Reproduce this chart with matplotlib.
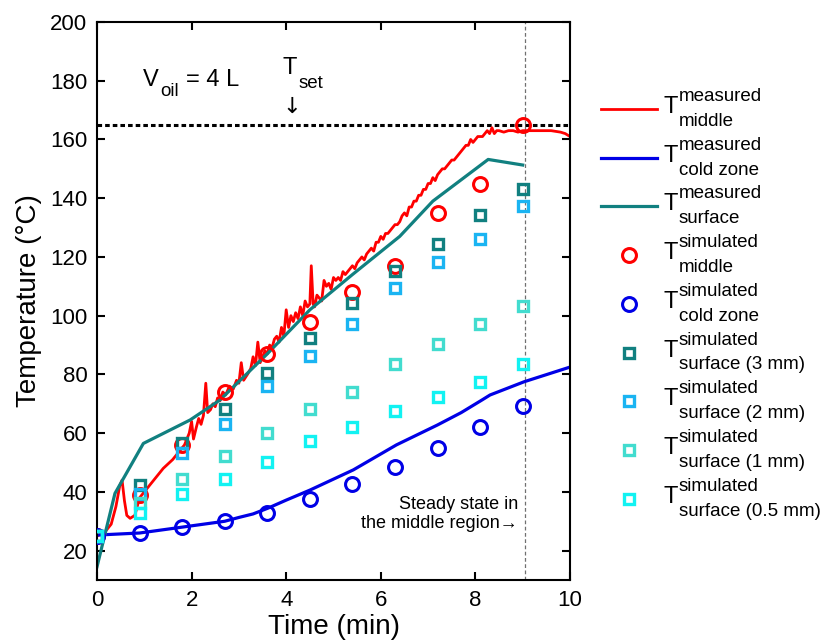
import matplotlib
matplotlib.use("Agg")
import matplotlib.pyplot as plt

plt.rcParams['font.family'] = ['Liberation Sans', 'DejaVu Sans']

# ---- measured data ----
t_mid = [0.0, 0.15, 0.3, 0.4, 0.48, 0.53, 0.58, 0.63, 0.7, 0.8, 0.9, 1.0, 1.2, 1.4, 1.6, 1.75,
         1.85, 1.95, 2.0, 2.04, 2.1, 2.15, 2.2, 2.25, 2.3, 2.34, 2.4, 2.45, 2.5, 2.55, 2.6, 2.66,
         2.72, 2.8, 2.88, 2.95, 3.0, 3.05, 3.1, 3.18, 3.25, 3.3, 3.35, 3.4, 3.45, 3.5, 3.55, 3.6,
         3.65, 3.7, 3.75, 3.8, 3.85, 3.9, 3.95, 4.0, 4.05, 4.1, 4.15, 4.2, 4.25, 4.3, 4.35, 4.4,
         4.45, 4.5, 4.53, 4.57, 4.6, 4.65, 4.7, 4.75, 4.8, 4.85, 4.9, 4.95, 5.0, 5.05, 5.1, 5.15,
         5.2, 5.25, 5.3, 5.35, 5.4, 5.45, 5.5, 5.55, 5.6, 5.65, 5.7, 5.75, 5.8, 5.85, 5.9, 5.95,
         6.0, 6.05, 6.1, 6.15, 6.2, 6.25, 6.3, 6.35, 6.4, 6.45, 6.5, 6.55, 6.6, 6.65, 6.7, 6.75,
         6.8, 6.85, 6.9, 6.95, 7.0, 7.05, 7.1, 7.15, 7.2, 7.25, 7.3, 7.35, 7.4, 7.45, 7.5, 7.55,
         7.6, 7.65, 7.7, 7.75, 7.8, 7.85, 7.9, 7.95, 8.0, 8.05, 8.1, 8.15, 8.2, 8.25, 8.3, 8.35,
         8.4, 8.45, 8.5, 8.6, 8.7, 8.8, 8.9, 9.0, 9.2, 9.4, 9.6, 9.8, 9.9, 10.0]
T_mid = [25, 26, 29, 35, 42, 44, 37, 32, 31, 32, 38, 40, 44, 48, 51, 54,
         56, 60, 64, 58, 62, 65, 63, 66, 77, 67, 68, 70, 69, 72, 71, 74,
         73, 76, 75, 78, 77, 84, 78, 80, 82, 86, 83, 91, 84, 86, 88, 87,
         90, 89, 92, 93, 91, 96, 93, 102, 96, 100, 98, 101, 99, 103, 100, 105,
         103, 104, 117, 104, 103, 107, 106, 105, 112, 110, 111, 109, 113, 112, 113, 112,
         115, 114, 115, 116, 117, 116, 118, 119, 120, 119, 121, 122, 123, 122, 125, 125,
         127, 126, 128, 128, 129, 130, 131, 131, 132, 134, 135, 134, 137, 137, 139, 139,
         141, 141, 143, 143, 145, 145, 147, 146, 148, 149, 150, 150, 151, 152, 153, 153,
         154, 155, 156, 157, 158, 158, 160, 159, 160, 161, 161, 161, 162, 163, 162, 164,
         162, 163, 163, 162.5, 163, 163, 162.5, 163, 163, 163, 163, 162.5, 162, 161]

t_cold = [0.0, 0.9, 1.8, 2.7, 3.0, 3.3, 3.62, 4.0, 4.5, 5.42, 6.33, 7.2, 7.7, 8.14, 8.31, 9.03, 10.0]
T_cold = [25.3, 26.0, 28.0, 30.0, 31.3, 32.5, 34.5, 37.2, 40.6, 47.5, 56.0, 62.8, 67.0, 71.3, 73.0, 77.5, 82.5]

t_surf = [0.0, 0.38, 0.98, 1.97, 2.6, 3.6, 4.5, 5.4, 6.4, 7.1, 8.27, 9.0]
T_surf = [14.5, 39.5, 56.5, 64.5, 71.3, 87.0, 102.0, 114.0, 127.0, 139.0, 153.2, 151.3]

# ---- simulated data ----
t_sim = [0.0, 0.9, 1.8, 2.7, 3.6, 4.5, 5.4, 6.3, 7.2, 8.1, 9.0]
sim_middle = [25, 39, 56, 74, 87, 98, 108, 117, 135, 145, 165]
sim_cold = [25, 26.1, 28.2, 30.1, 32.9, 37.6, 42.6, 48.6, 55.1, 62.2, 69.2]
sim_s3 = [25, 42.5, 56.5, 68.1, 80.4, 92.3, 104.2, 115.2, 124.3, 134.2, 143.0]
sim_s2 = [25, 39.3, 53.1, 63.1, 76.2, 86.4, 97.1, 109.3, 118.2, 126.1, 137.3]
sim_s1 = [25, 36.1, 44.4, 52.2, 60.2, 68.1, 74.1, 83.4, 90.3, 97.1, 103.3]
sim_s05 = [25, 32.9, 39.3, 44.4, 50.3, 57.3, 62.2, 67.5, 72.4, 77.5, 83.4]

T_set = 165
t_steady = 9.05

x_ticks = [0, 2, 4, 6, 8, 10]
y_ticks = [20, 40, 60, 80, 100, 120, 140, 160, 180, 200]

legend_sup = ['measured', 'measured', 'measured', 'simulated', 'simulated',
              'simulated', 'simulated', 'simulated', 'simulated']
legend_sub = ['middle', 'cold zone', 'surface', 'middle', 'cold zone',
              'surface (3 mm)', 'surface (2 mm)', 'surface (1 mm)', 'surface (0.5 mm)']

c_red = '#ff0000'
c_blue = '#0000e6'
c_teal = '#118080'
c_s2 = '#1ab4f2'
c_s1 = '#42dccf'
c_s05 = '#12f2f2'

fig = plt.figure(figsize=(8.24, 6.44), dpi=100)
ax = fig.add_axes([97/824, 64/644, 473/824, 558/644])

ax.axhline(T_set, color='black', linestyle=(0, (1.5, 1.0)), linewidth=2.2, zorder=1)
ax.axvline(t_steady, color='#707070', linestyle=(0, (3, 2)), linewidth=0.9, zorder=1)

labels = [a + '\n' + b for a, b in zip(legend_sup, legend_sub)]

l1, = ax.plot(t_mid, T_mid, color=c_red, linewidth=2.0, zorder=2, label=labels[0])
l2, = ax.plot(t_cold, T_cold, color=c_blue, linewidth=2.3, zorder=2, label=labels[1])
l3, = ax.plot(t_surf, T_surf, color=c_teal, linewidth=2.3, zorder=2, label=labels[2])

ckw = dict(linestyle='none', marker='o', markersize=10, markerfacecolor='none',
           markeredgewidth=2.2, zorder=3)
skw = dict(linestyle='none', marker='s', markersize=7.5, markerfacecolor='none',
           markeredgewidth=2.4, zorder=3)
m1, = ax.plot(t_sim, sim_middle, markeredgecolor=c_red, label=labels[3], **ckw)
m2, = ax.plot(t_sim, sim_cold, markeredgecolor=c_blue, label=labels[4], **ckw)
m3, = ax.plot(t_sim, sim_s3, markeredgecolor=c_teal, label=labels[5], **skw)
m4, = ax.plot(t_sim, sim_s2, markeredgecolor=c_s2, label=labels[6], **skw)
m5, = ax.plot(t_sim, sim_s1, markeredgecolor=c_s1, label=labels[7], **skw)
m6, = ax.plot(t_sim, sim_s05, markeredgecolor=c_s05, label=labels[8], **skw)

ax.set_xlim(0, 10)
ax.set_ylim(10, 200)
ax.set_xticks(x_ticks)
ax.set_yticks(y_ticks)
ax.tick_params(direction='in', length=6, width=1.5, top=True, right=True,
               labelsize=16, pad=7)
for s in ax.spines.values():
    s.set_linewidth(1.5)

ax.set_xlabel('Time (min)', fontsize=20, labelpad=2)
ax.set_ylabel('Temperature (°C)', fontsize=20, labelpad=6)

# annotations
ax.text(0.97, 180.3, 'V', fontsize=17, ha='left', va='center')
ax.text(1.33, 176.3, 'oil', fontsize=13.5, ha='left', va='center')
ax.text(1.88, 180.3, '= 4 L', fontsize=17, ha='left', va='center')
ax.text(3.92, 184.3, 'T', fontsize=17, ha='left', va='center')
ax.text(4.27, 179.0, 'set', fontsize=13.5, ha='left', va='center')
ax.text(4.12, 171, '↓', fontsize=16, ha='center', va='center', family=['DejaVu Sans'])
ax.text(8.9, 32.5, 'Steady state in\nthe middle region→', fontsize=13, ha='right',
        va='center', linespacing=1.15, family=['Liberation Sans', 'DejaVu Sans'])

leg = ax.legend(handles=[l1, l2, l3, m1, m2, m3, m4, m5, m6],
                loc='upper left', bbox_to_anchor=(601/824, 1 - 88/644),
                bbox_transform=fig.transFigure, frameon=False, fontsize=13.5,
                handlelength=3.0, handletextpad=1.15, labelspacing=0.37,
                borderpad=0, borderaxespad=0)
for txt in leg.get_texts():
    txt.set_linespacing(1.6)

# large "T" in front of each legend label
fig.canvas.draw()
renderer = fig.canvas.get_renderer()
for txt in leg.get_texts():
    bb = txt.get_window_extent(renderer)
    cy = (bb.y0 + bb.y1) / 2 + 2
    fig.text((bb.x0 - 15) / fig.bbox.width, cy / fig.bbox.height, 'T', fontsize=17,
             ha='left', va='center')

fig.savefig('out.png', dpi=100)
